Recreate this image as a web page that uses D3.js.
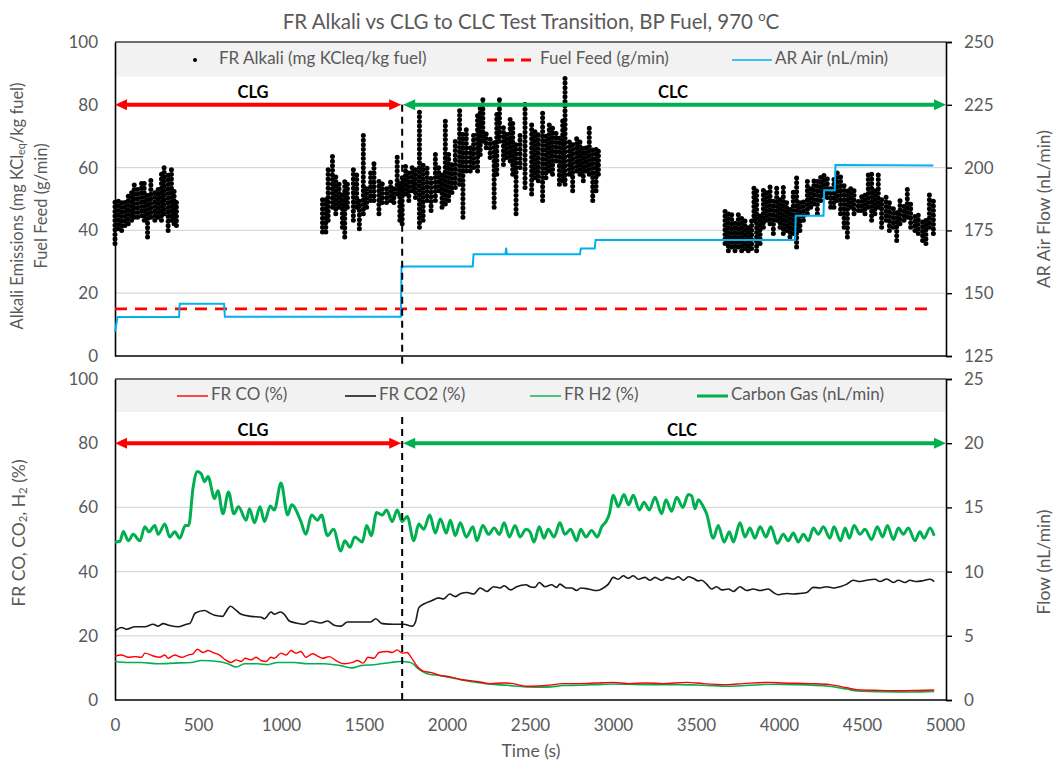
<!DOCTYPE html>
<html>
<head>
<meta charset="utf-8">
<script src="https://cdn.jsdelivr.net/npm/d3@7"></script>
<style>
  html, body { margin: 0; padding: 0; background: #fff; }
  svg text { font-family: Lato, "Noto Sans", sans-serif; }
</style>
</head>
<body>
<div id="chart"></div>
<script>
// ---- data ----
const xTicks = [0, 500, 1000, 1500, 2000, 2500, 3000, 3500, 4000, 4500, 5000];
const leftTicks = [0, 20, 40, 60, 80, 100];
const airTicks = [125, 150, 175, 200, 225, 250];
const flowTicks = [0, 5, 10, 15, 20, 25];
const transitionTime = 1730;

// FR alkali: vertical runs of dots [time, low, high] (mg KCleq/kg fuel)
const alkaliRuns = [
  [0, 35.8, 50], [20, 40.5, 50.5], [40, 40, 49.5], [60, 41.6, 50], [80, 42.1, 52.1],
  [100, 43.2, 53.2], [116, 44.2, 55.8], [136, 44.2, 53.7], [160, 44.7, 55.8], [176, 43.2, 55.3],
  [196, 37.9, 51.6], [216, 44.2, 56.3], [240, 43.2, 52.6], [260, 44.2, 53.7], [280, 43.2, 57.9],
  [296, 45.3, 60], [320, 40, 57.9], [340, 43.2, 60], [356, 42.1, 53.7], [370, 41.6, 49.5],
  [1250, 39.5, 51], [1270, 39.5, 50.5], [1284, 43.2, 59.5], [1310, 47.4, 63.7], [1330, 45.3, 57.9],
  [1350, 47.4, 55.8], [1370, 41, 52.6], [1384, 37.9, 55.8], [1400, 47.4, 55.8], [1436, 43.2, 60.5],
  [1456, 47.4, 58.4], [1472, 40.5, 49.5], [1496, 45.3, 71], [1516, 47.4, 54.7], [1540, 49.5, 58.9],
  [1560, 49.5, 62.1], [1590, 45.3, 55.8], [1610, 48.9, 55.8], [1636, 48.9, 54.7], [1660, 49.5, 55.8],
  [1680, 48.9, 54.2], [1700, 51.6, 63.7], [1716, 43.2, 55.8], [1730, 42.1, 57.9], [1750, 51.6, 61],
  [1770, 49.5, 58.9], [1790, 52.6, 60], [1810, 50.5, 60], [1834, 41, 78.9], [1856, 43.2, 61],
  [1880, 49.5, 60], [1904, 46.3, 57.9], [1930, 49.5, 64.2], [1950, 52.6, 60], [1970, 47.4, 58.9],
  [1990, 48.4, 75.8], [2010, 49.5, 65.3], [2030, 52.1, 61], [2050, 53.7, 68.4], [2076, 54.7, 78.9],
  [2096, 44.2, 71.6], [2116, 58.9, 72.6], [2140, 58.9, 66.3], [2160, 60, 70.5], [2184, 58.9, 77.9],
  [2200, 64.2, 78.9], [2216, 68.4, 81.6], [2236, 66.3, 71.6], [2260, 63.2, 70.5], [2284, 47.4, 68.4],
  [2300, 57.9, 77.9], [2316, 68.4, 81.6], [2340, 61, 73.7], [2360, 63.2, 71.6], [2380, 62.1, 75.8],
  [2396, 57.9, 74.7], [2416, 45.3, 68.4], [2440, 60, 71.6], [2470, 53.7, 81], [2510, 51.6, 74.7],
  [2530, 56.8, 72.6], [2550, 55.8, 70.5], [2576, 49.5, 77.4], [2596, 56.8, 70.5], [2616, 58.9, 74.7],
  [2636, 57.9, 73.7], [2657, 62.1, 71.6], [2677, 54.7, 69.5], [2697, 55.8, 75.8], [2711, 54.7, 89],
  [2737, 57.9, 69.5], [2757, 52.6, 68.4], [2781, 58.9, 70.5], [2801, 57.9, 69.5], [2821, 55.8, 67.4],
  [2837, 58.9, 67.4], [2857, 57.9, 73.2], [2878, 49.5, 66.3], [2898, 52.6, 66.8], [2912, 57.9, 66.3],
  [3675, 35.8, 47.4], [3695, 33.5, 45.3], [3715, 34.7, 46.3], [3735, 33.5, 43.2], [3755, 34.7, 45.3],
  [3775, 33.5, 44.2], [3795, 34.2, 43.2], [3815, 33.5, 42.1], [3835, 34.2, 44.2], [3849, 43.2, 54.7],
  [3865, 33.5, 52.6], [3886, 35.8, 45.3], [3906, 41, 53.7], [3926, 43.2, 52.6], [3946, 42.1, 54.7],
  [3966, 39, 50.5], [3986, 43.2, 53.7], [4006, 41, 50.5], [4026, 39, 53.7], [4046, 40, 49.5],
  [4066, 37.9, 47.4], [4086, 39, 52.6], [4106, 34.7, 57.9], [4126, 40, 49.5], [4147, 43.2, 50.5],
  [4171, 45.3, 55.8], [4191, 47.4, 54.7], [4211, 48.4, 55.8], [4231, 45.3, 56.8], [4251, 49.5, 57.9],
  [4271, 51.6, 58.4], [4291, 50.5, 56.8], [4311, 47.4, 54.7], [4331, 47.4, 56.8], [4351, 49.5, 58.9],
  [4371, 45.3, 57.9], [4392, 41, 54.7], [4412, 37.9, 52.6], [4432, 47.4, 53.7], [4452, 45.3, 53.7],
  [4478, 46.3, 50.5], [4498, 46.3, 51.6], [4518, 45.3, 52.6], [4538, 47.4, 58.9], [4558, 43.2, 57.9],
  [4578, 45.3, 53.7], [4598, 47.4, 58.9], [4618, 41, 50.5], [4645, 43.2, 51.6], [4665, 40, 49.5],
  [4689, 41, 47.4], [4709, 36.8, 46.3], [4729, 42.1, 50.5], [4753, 43.2, 48.4], [4773, 44.2, 53.7],
  [4793, 41, 49.5], [4819, 40, 45.3], [4839, 39, 45.3], [4865, 36.8, 43.2], [4885, 35.8, 44.2],
  [4906, 41, 51.6], [4930, 39, 50.5]
];

// fuel feed (g/min)
const fuelFeed = [[0, 15], [4930, 15]];

// AR air (nL/min), right axis
const arAir = [
  [0, 134.7], [15, 140.5], [386, 140.5], [390, 145.8], [657, 145.8], [662, 140.6],
  [1722, 140.6], [1726, 160.6], [2155, 160.6], [2160, 165.5], [2352, 165.5], [2356, 168.1],
  [2361, 165.5], [2801, 165.5], [2806, 167.8], [2890, 167.8], [2895, 171.2], [4097, 171.2],
  [4101, 180.8], [4268, 180.8], [4272, 191], [4336, 191], [4340, 201], [4930, 200.8]
];

// FR CO (%)
const frCO = [
  [0, 13.7], [40, 14.0], [80, 13.3], [120, 13.5], [160, 13.3], [180, 14.6], [230, 13.7], [270, 13.3],
  [300, 14.0], [320, 13.0], [360, 14.0], [400, 13.3], [440, 14.0], [470, 14.4], [496, 15.8], [530, 14.8],
  [560, 15.4], [600, 14.6], [630, 14.0], [660, 12.7], [700, 11.7], [730, 12.5], [760, 12.0], [784, 13.0],
  [820, 12.5], [850, 13.3], [880, 12.3], [910, 12.0], [940, 13.3], [960, 13.0], [1000, 14.6], [1030, 14.0],
  [1060, 15.4], [1090, 14.6], [1120, 15.1], [1150, 13.3], [1190, 14.4], [1220, 13.7], [1250, 13.0],
  [1290, 13.5], [1340, 12.0], [1380, 11.3], [1430, 11.7], [1460, 12.3], [1496, 11.5], [1524, 13.3],
  [1560, 13.0], [1590, 14.8], [1640, 15.1], [1670, 14.8], [1700, 15.6], [1730, 14.6], [1760, 14.8],
  [1784, 13.3], [1820, 10.5], [1860, 8.9], [1900, 8.6], [1960, 7.6], [2020, 7.2], [2080, 6.4],
  [2140, 6.05], [2200, 5.6], [2260, 5.1], [2340, 5.3], [2400, 5.1], [2476, 4.3], [2500, 4.3],
  [2600, 4.5], [2700, 5.1], [2800, 5.1], [2900, 5.3], [3000, 5.5], [3100, 5.1], [3200, 5.3],
  [3300, 5.1], [3444, 5.5], [3544, 5.1], [3685, 4.8], [3785, 5.1], [3946, 5.5], [4026, 5.3],
  [4187, 5.1], [4307, 4.8], [4408, 3.8], [4468, 3.2], [4608, 3.0], [4749, 2.9], [4935, 3.1]
];

// FR CO2 (%)
const frCO2 = [
  [0, 21.5], [40, 22.6], [70, 22.05], [120, 22.8], [180, 22.8], [230, 23.6], [260, 23.0], [290, 23.8],
  [330, 23.2], [380, 22.8], [430, 23.6], [450, 23.8], [484, 27.1], [540, 27.9], [570, 27.1], [600, 26.4],
  [650, 26.05], [664, 27.1], [696, 29.2], [730, 27.9], [760, 26.7], [820, 26.05], [880, 25.8], [900, 25.3],
  [940, 27.4], [960, 26.7], [996, 27.4], [1020, 26.7], [1050, 24.6], [1090, 24.0], [1140, 23.6],
  [1180, 24.6], [1240, 24.0], [1280, 24.6], [1320, 23.3], [1360, 23.0], [1400, 24.3], [1480, 24.3],
  [1540, 24.3], [1570, 25.3], [1610, 23.8], [1680, 23.6], [1740, 23.6], [1790, 23.0], [1810, 24.3],
  [1830, 28.7], [1860, 29.9], [1910, 31.0], [1950, 31.8], [1980, 31.5], [2016, 33.0], [2050, 32.2],
  [2084, 33.2], [2120, 33.5], [2160, 33.0], [2200, 34.9], [2240, 33.8], [2280, 35.3], [2320, 34.9],
  [2344, 35.6], [2384, 34.3], [2420, 35.3], [2476, 35.9], [2500, 35.3], [2530, 35.1], [2556, 36.6],
  [2590, 35.3], [2630, 35.9], [2660, 35.1], [2680, 36.1], [2720, 34.9], [2751, 34.9], [2781, 34.1],
  [2805, 34.9], [2851, 34.6], [2902, 34.1], [2932, 34.6], [2972, 36.1], [3002, 38.2], [3032, 37.6],
  [3062, 38.7], [3092, 37.9], [3122, 38.7], [3153, 37.6], [3193, 38.2], [3223, 37.3], [3253, 38.2],
  [3293, 37.3], [3323, 38.2], [3363, 37.6], [3394, 38.4], [3424, 37.3], [3454, 38.4], [3484, 37.9],
  [3514, 37.1], [3534, 37.3], [3564, 36.1], [3594, 34.6], [3624, 35.3], [3655, 34.3], [3695, 34.6],
  [3725, 33.8], [3765, 35.3], [3805, 34.1], [3845, 34.6], [3886, 34.1], [3936, 34.6], [3966, 33.5],
  [3996, 32.8], [4046, 33.2], [4086, 33.0], [4126, 33.2], [4167, 33.5], [4207, 35.1], [4247, 34.9],
  [4287, 35.3], [4327, 34.9], [4367, 35.3], [4408, 36.1], [4448, 37.3], [4488, 36.9], [4528, 37.3],
  [4578, 37.6], [4608, 36.9], [4649, 37.7], [4689, 36.6], [4719, 37.3], [4759, 36.6], [4789, 37.3],
  [4829, 36.9], [4859, 37.1], [4910, 37.6], [4935, 36.9]
];

// FR H2 (%)
const frH2 = [
  [0, 12.0], [80, 11.7], [160, 11.7], [260, 11.3], [360, 11.5], [460, 11.7], [520, 12.3], [620, 12.0],
  [680, 11.3], [730, 10.3], [780, 11.3], [860, 11.3], [920, 11.0], [980, 11.7], [1080, 11.7], [1160, 11.3],
  [1260, 11.3], [1360, 10.7], [1430, 10.0], [1480, 10.7], [1560, 11.0], [1660, 11.7], [1720, 12.0],
  [1780, 11.7], [1830, 9.6], [1880, 8.2], [1960, 7.6], [2060, 6.6], [2160, 5.6], [2260, 4.9], [2360, 4.6],
  [2476, 4.1], [2600, 4.0], [2700, 4.5], [2800, 4.6], [2900, 4.8], [3000, 5.0], [3200, 4.8], [3400, 4.8],
  [3544, 4.6], [3700, 4.3], [3800, 4.5], [3950, 4.9], [4100, 4.8], [4300, 4.3], [4408, 3.4], [4470, 2.8],
  [4600, 2.6], [4800, 2.5], [4935, 2.7]
];

// carbon gas (nL/min), right axis
const carbonGas = [
  [0, 12.3], [30, 12.36], [50, 13.13], [80, 12.4], [110, 12.9], [150, 12.4], [180, 13.5], [204, 13.1],
  [240, 13.6], [260, 12.9], [300, 13.7], [330, 12.7], [360, 13.1], [390, 12.6], [424, 13.6], [444, 13.6],
  [470, 16.5], [496, 17.8], [520, 17.6], [540, 17.0], [560, 17.4], [600, 15.7], [620, 16.3], [650, 14.5],
  [684, 16.2], [716, 14.5], [744, 15.05], [790, 14.0], [810, 14.9], [840, 13.8], [874, 15.05], [900, 13.9],
  [936, 15.1], [960, 14.8], [1000, 16.9], [1040, 14.4], [1064, 15.2], [1120, 13.9], [1150, 12.9],
  [1184, 14.4], [1220, 14.0], [1244, 14.4], [1280, 12.8], [1316, 13.3], [1360, 11.6], [1384, 12.4],
  [1416, 11.9], [1444, 12.7], [1490, 12.3], [1516, 13.6], [1544, 12.8], [1576, 14.6], [1610, 14.4],
  [1636, 14.8], [1670, 13.9], [1700, 14.8], [1730, 13.9], [1760, 14.3], [1800, 12.4], [1830, 13.7],
  [1860, 13.3], [1896, 14.4], [1930, 13.0], [1960, 14.1], [1996, 13.0], [2020, 14.0], [2050, 12.8],
  [2080, 13.8], [2116, 12.7], [2156, 13.5], [2180, 12.4], [2216, 13.6], [2250, 12.9], [2284, 13.4],
  [2316, 12.9], [2344, 13.8], [2376, 12.7], [2410, 13.6], [2440, 12.7], [2476, 13.3], [2500, 13.1],
  [2524, 12.3], [2556, 13.5], [2584, 12.6], [2610, 13.3], [2645, 12.7], [2680, 13.8], [2710, 12.9],
  [2745, 13.3], [2781, 12.4], [2805, 13.3], [2837, 12.7], [2871, 13.2], [2906, 12.7], [2932, 13.5],
  [2958, 13.9], [2978, 14.5], [3002, 15.95], [3032, 15.05], [3066, 16.0], [3094, 15.2], [3122, 15.95],
  [3159, 14.8], [3187, 15.4], [3219, 14.8], [3253, 15.8], [3293, 14.5], [3319, 15.6], [3353, 14.7],
  [3384, 15.8], [3420, 15.0], [3454, 16.0], [3474, 15.9], [3494, 14.9], [3514, 15.6], [3544, 15.05],
  [3564, 14.5], [3604, 12.6], [3634, 13.6], [3669, 12.3], [3701, 13.1], [3725, 12.3], [3765, 13.8],
  [3795, 12.7], [3825, 13.4], [3855, 12.6], [3886, 13.5], [3922, 12.7], [3950, 13.5], [3990, 12.2],
  [4026, 12.9], [4056, 12.4], [4086, 13.0], [4116, 12.3], [4147, 12.9], [4177, 12.4], [4207, 13.4],
  [4237, 12.9], [4267, 13.5], [4307, 12.6], [4331, 13.5], [4371, 12.4], [4398, 13.4], [4424, 12.6],
  [4452, 13.6], [4488, 12.9], [4518, 13.3], [4558, 12.5], [4592, 13.5], [4624, 12.7], [4653, 13.6],
  [4689, 12.5], [4719, 13.4], [4749, 12.9], [4779, 13.4], [4819, 12.4], [4849, 13.1], [4873, 12.6],
  [4910, 13.4], [4935, 12.8]
];

// ---- drawing ----
const W = 1058, H = 762;
const RED = '#ff0000', GREEN = '#00b050', BLUE = '#00b0f0', GREY = '#595959';
const FONT = 'Lato, "Noto Sans", sans-serif';

const svg = d3.select('#chart').append('svg').attr('width', W).attr('height', H);

const x = d3.scaleLinear().domain([0, 5000]).range([115, 945]);
const yTop = d3.scaleLinear().domain([0, 100]).range([356, 42]);
const yAir = d3.scaleLinear().domain([125, 250]).range([356, 42]);
const yBot = d3.scaleLinear().domain([0, 100]).range([700, 379]);
const yFlow = d3.scaleLinear().domain([0, 25]).range([700, 379]);

svg.append('text')
  .attr('x', 531).attr('y', 29).attr('text-anchor', 'middle')
  .attr('fill', GREY).attr('font-size', 20.5)
  .call((t) => {
    t.append('tspan').text('FR Alkali vs CLG to CLC Test Transition, BP Fuel, 970 ');
    t.append('tspan').attr('font-size', 13).attr('dy', -8).text('o');
    t.append('tspan').attr('dy', 8).text('C');
  });

// one panel frame: band, grid, axes
function panel(yL, yR, rTicks, bandTop) {
  const g = svg.append('g');
  const [x0, x1] = x.range();
  g.append('rect')
    .attr('x', x0).attr('y', yL(100)).attr('width', x1 - x0 + 1).attr('height', yL(bandTop) - yL(100))
    .attr('fill', '#f2f2f2');
  leftTicks.filter((d) => d > 0 && d < 100).forEach((d) => {
    g.append('line').attr('x1', x0).attr('x2', x1).attr('y1', yL(d)).attr('y2', yL(d))
      .attr('stroke', '#d9d9d9').attr('stroke-width', 1.2);
  });
  g.append('line').attr('x1', x0).attr('x2', x1 + 1).attr('y1', yL(100)).attr('y2', yL(100))
    .attr('stroke', '#404040').attr('stroke-width', 1.5);

  const la = g.append('g').attr('transform', `translate(${x0},0)`)
    .call(d3.axisLeft(yL).tickValues(leftTicks).tickSize(0).tickPadding(17));
  const ra = g.append('g').attr('transform', `translate(${x1 + 1},0)`)
    .call(d3.axisRight(yR).tickValues(rTicks).tickSize(6).tickPadding(12));
  [la, ra].forEach((a) => {
    a.select('.domain').attr('stroke', '#000').attr('stroke-width', 1.6);
    a.selectAll('.tick line').attr('stroke', '#000').attr('stroke-width', 1.4);
    a.selectAll('text').attr('fill', GREY).attr('font-size', 17).style('font-family', FONT);
  });
  g.append('line').attr('x1', x0).attr('x2', x1 + 1).attr('y1', yL(0)).attr('y2', yL(0))
    .attr('stroke', '#000').attr('stroke-width', 1.6);
  return g;
}

panel(yTop, yAir, airTicks, 89);
panel(yBot, yFlow, flowTicks, 89.7);

// x axis under the bottom panel
const xa = svg.append('g').attr('transform', `translate(0,${yBot(0)})`)
  .call(d3.axisBottom(x).tickValues(xTicks).tickSize(0).tickPadding(19).tickFormat(d3.format('d')));
xa.select('.domain').remove();
xa.selectAll('text').attr('fill', GREY).attr('font-size', 17).style('font-family', FONT);

svg.append('text').attr('x', 531).attr('y', 757).attr('text-anchor', 'middle')
  .attr('fill', GREY).attr('font-size', 17.5).text('Time (s)');

// axis titles
function vText(cx, cy, size, parts) {
  const t = svg.append('text')
    .attr('transform', `translate(${cx},${cy}) rotate(-90)`)
    .attr('text-anchor', 'middle').attr('fill', GREY).attr('font-size', size)
    .attr('dominant-baseline', 'middle');
  parts.forEach(([s, sub]) => {
    const sp = t.append('tspan').text(s);
    if (sub) sp.attr('font-size', size * 0.65).attr('baseline-shift', '-3');
  });
}
vText(19, 206, 16.5, [['Alkali Emissions (mg KCl'], ['eq', true], ['/kg fuel)']]);
vText(43, 206, 16.5, [['Fuel Feed (g/min)']]);
vText(1046, 209, 17.5, [['AR Air Flow (nL/min)']]);
vText(21, 533, 17.5, [['FR CO, CO'], ['2', true], [', H'], ['2', true], [' (%)']]);
vText(1046, 562, 17.5, [['Flow (nL/min)']]);

// ---- top panel series ----
const topG = svg.append('g');
topG.selectAll('line.run').data(alkaliRuns).enter().append('line')
  .attr('x1', (d) => x(d[0])).attr('x2', (d) => x(d[0]))
  .attr('y1', (d) => yTop(d[1])).attr('y2', (d) => yTop(d[2]))
  .attr('stroke', '#000').attr('stroke-width', 5)
  .attr('stroke-linecap', 'round').attr('stroke-dasharray', '0 4.6');

topG.append('path').datum(fuelFeed)
  .attr('fill', 'none').attr('stroke', RED).attr('stroke-width', 2.8).attr('stroke-dasharray', '12 8')
  .attr('d', d3.line().x((d) => x(d[0])).y((d) => yTop(d[1])));

topG.append('path').datum(arAir)
  .attr('fill', 'none').attr('stroke', BLUE).attr('stroke-width', 2)
  .attr('d', d3.line().x((d) => x(d[0])).y((d) => yAir(d[1])));

// ---- bottom panel series ----
const botG = svg.append('g');
const smooth = d3.curveMonotoneX;
botG.append('path').datum(frCO2)
  .attr('fill', 'none').attr('stroke', '#1a1a1a').attr('stroke-width', 1.6)
  .attr('d', d3.line().curve(smooth).x((d) => x(d[0])).y((d) => yBot(d[1])));
botG.append('path').datum(frH2)
  .attr('fill', 'none').attr('stroke', GREEN).attr('stroke-width', 1.6)
  .attr('d', d3.line().curve(smooth).x((d) => x(d[0])).y((d) => yBot(d[1])));
botG.append('path').datum(frCO)
  .attr('fill', 'none').attr('stroke', RED).attr('stroke-width', 1.4)
  .attr('d', d3.line().curve(smooth).x((d) => x(d[0])).y((d) => yBot(d[1])));
botG.append('path').datum(carbonGas)
  .attr('fill', 'none').attr('stroke', GREEN).attr('stroke-width', 3)
  .attr('d', d3.line().curve(smooth).x((d) => x(d[0])).y((d) => yFlow(d[1])));

// ---- transition markers ----
function arrow(yPos, xa0, xa1, color) {
  const h = 12, w = 5.5;
  svg.append('line').attr('x1', xa0 + h - 2).attr('x2', xa1 - h + 2).attr('y1', yPos).attr('y2', yPos)
    .attr('stroke', color).attr('stroke-width', 4);
  svg.append('path').attr('fill', color)
    .attr('d', `M${xa0},${yPos} L${xa0 + h},${yPos - w} L${xa0 + h},${yPos + w} Z`);
  svg.append('path').attr('fill', color)
    .attr('d', `M${xa1},${yPos} L${xa1 - h},${yPos - w} L${xa1 - h},${yPos + w} Z`);
}
const xt = x(transitionTime);
[[yTop, 80, -3.5, 673], [yBot, 88.2, 0, 682]].forEach(([ys, from, to, lx]) => {
  svg.append('line').attr('x1', xt).attr('x2', xt).attr('y1', ys(from)).attr('y2', ys(to))
    .attr('stroke', '#000').attr('stroke-width', 2).attr('stroke-dasharray', '7 5');
  arrow(ys(80), x(0), xt - 1, RED);
  arrow(ys(80), xt + 1, x.range()[1] + 1, GREEN);
  svg.append('text').attr('x', 253).attr('y', ys(80) - 7).attr('text-anchor', 'middle')
    .attr('font-size', 16.5).attr('font-weight', 'bold').attr('fill', '#000').text('CLG');
  svg.append('text').attr('x', lx).attr('y', ys(80) - 7).attr('text-anchor', 'middle')
    .attr('font-size', 16.5).attr('font-weight', 'bold').attr('fill', '#000').text('CLC');
});

// ---- legends ----
function legendText(lx, ly, s) {
  svg.append('text').attr('x', lx).attr('y', ly).attr('dominant-baseline', 'middle')
    .attr('fill', GREY).attr('font-size', 17).text(s);
}
const ly1 = 60;
svg.append('circle').attr('cx', 195).attr('cy', ly1).attr('r', 2).attr('fill', '#000');
legendText(219, ly1, 'FR Alkali (mg KCleq/kg fuel)');
svg.append('line').attr('x1', 487).attr('x2', 535).attr('y1', ly1).attr('y2', ly1)
  .attr('stroke', RED).attr('stroke-width', 2.8).attr('stroke-dasharray', '10 7');
legendText(540, ly1, 'Fuel Feed (g/min)');
svg.append('line').attr('x1', 732).attr('x2', 772).attr('y1', ly1).attr('y2', ly1)
  .attr('stroke', BLUE).attr('stroke-width', 1.6);
legendText(775, ly1, 'AR Air (nL/min)');

const ly2 = 396;
[[177, 'FR CO (%)', RED, 1.4], [345, 'FR CO2 (%)', '#1a1a1a', 1.6],
 [530, 'FR H2 (%)', GREEN, 1.4], [697, 'Carbon Gas (nL/min)', GREEN, 3]].forEach(([lx, s, c, sw]) => {
  svg.append('line').attr('x1', lx).attr('x2', lx + 31).attr('y1', ly2).attr('y2', ly2)
    .attr('stroke', c).attr('stroke-width', sw);
  legendText(lx + 34, ly2, s);
});
</script>
</body>
</html>
